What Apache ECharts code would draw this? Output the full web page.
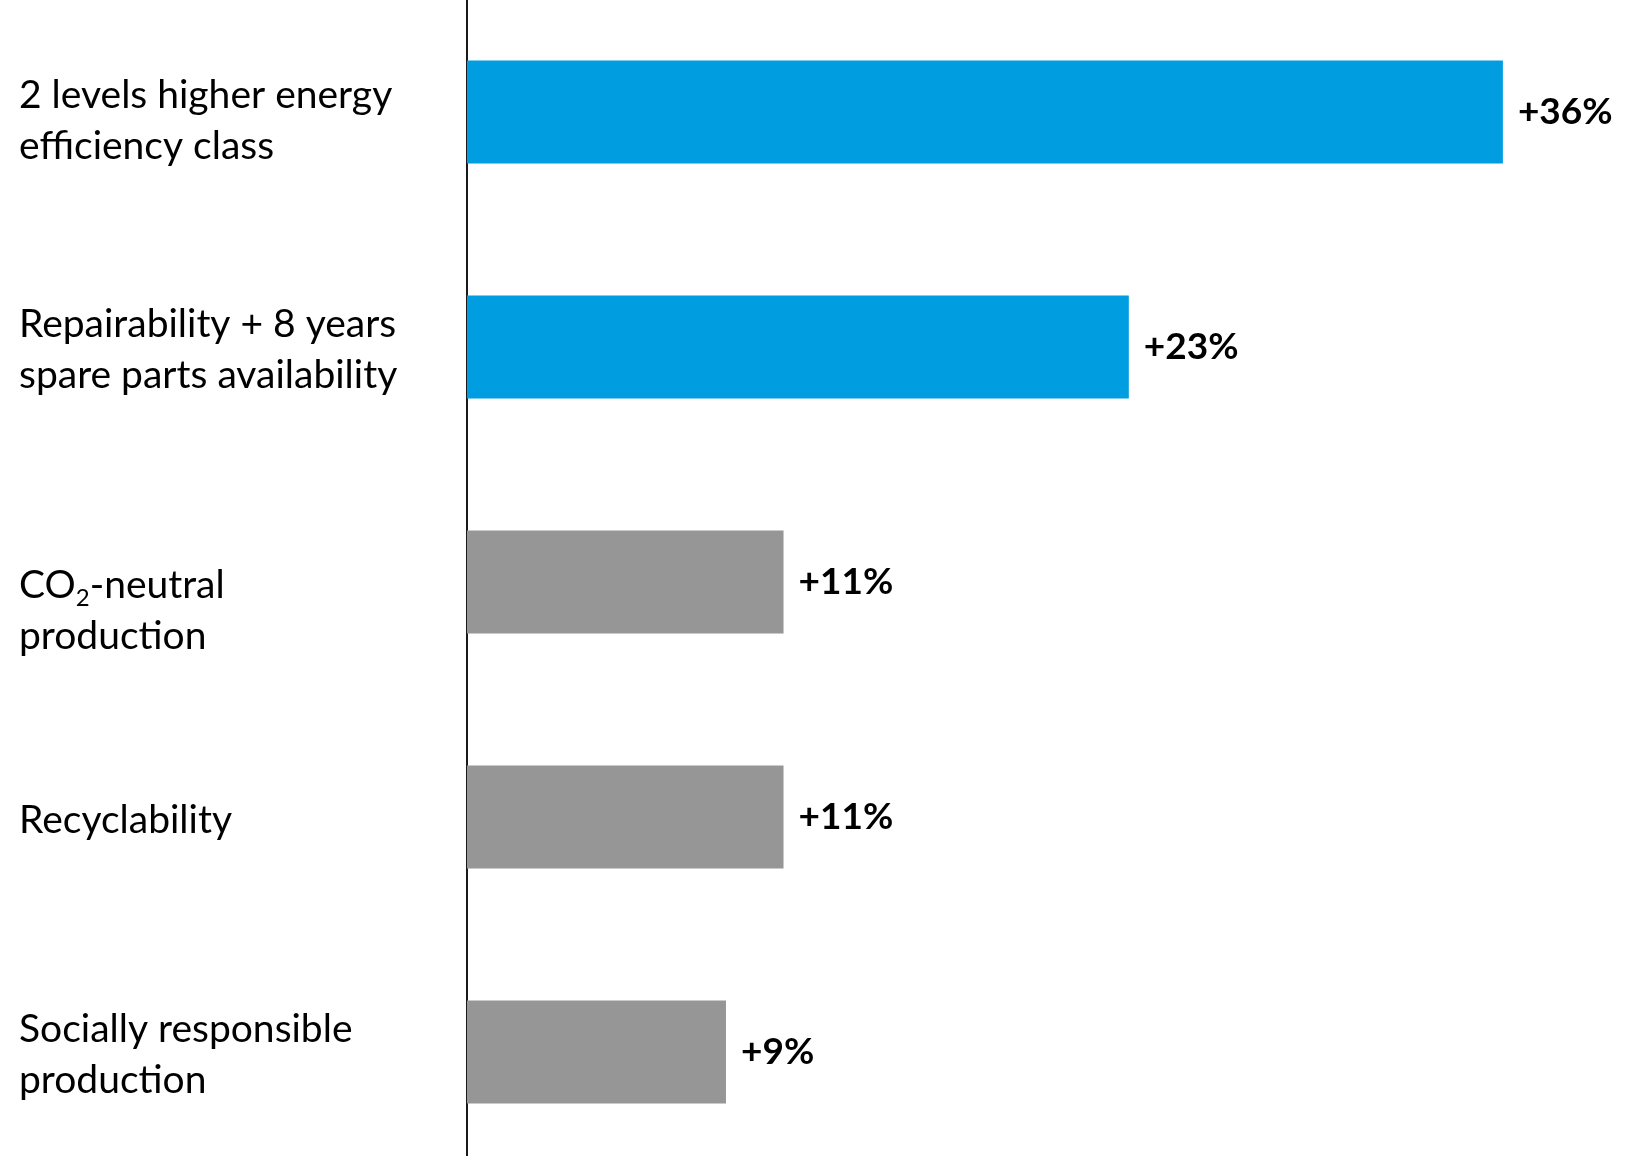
<!DOCTYPE html>
<html>
<head>
<meta charset="utf-8">
<title>Willingness to pay premium</title>
<script src="https://cdn.jsdelivr.net/npm/echarts@6/dist/echarts.min.js"></script>
<style>
  html, body { margin: 0; padding: 0; background: #ffffff; }
  #chart { width: 1643px; height: 1156px; }
</style>
</head>
<body>
<div id="chart"></div>
<script>
// Product attributes, top to bottom
const categories = [
  '2 levels higher energy\nefficiency class',
  'Repairability + 8 years\nspare parts availability',
  'CO2-neutral\nproduction',
  'Recyclability',
  'Socially responsible\nproduction'
];
// Price premium (%) per attribute
const premiums = [36, 23, 11, 11, 9];
// Highlight group per attribute: 'top' attributes in blue, the rest in grey
const groups = ['top', 'top', 'other', 'other', 'other'];

const groupColors = { top: '#009EE0', other: '#969696' };
const baseFont = 'Lato, "Open Sans", "Noto Sans", sans-serif';

// Top padding for category labels (px); some labels sit lower than the rest
const baseLabelPadding = 6;
const labelTopPadding = { 0: 18, 2: 57 };

// Turn "CO2" into rich text with a subscript 2
function categoryLabel(value) {
  return value.split('\n').map(function (line) {
    return line.replace(/CO2/g, 'CO{sub|2}');
  }).join('\n');
}

const axisData = categories.map(function (c, i) {
  const pad = labelTopPadding[i];
  return pad
    ? { value: c, textStyle: { align: 'left', padding: [pad, 0, 0, 0] } }
    : c;
});

const chart = echarts.init(document.getElementById('chart'), null, { renderer: 'canvas' });

chart.setOption({
  backgroundColor: '#ffffff',
  animation: false,
  grid: {
    left: 467,
    top: -5.5,
    width: 1151,
    height: 1175,
    outerBoundsMode: 'none',
    containLabel: false
  },
  xAxis: {
    type: 'value',
    min: 0,
    max: 40,
    show: false
  },
  yAxis: {
    type: 'category',
    data: axisData,
    inverse: true,
    axisLine: { show: true, lineStyle: { color: '#1a1a1a', width: 2 } },
    axisTick: { show: false },
    splitLine: { show: false },
    axisLabel: {
      align: 'left',
      margin: 448,
      padding: [baseLabelPadding, 0, 0, 0],
      color: '#000000',
      fontFamily: baseFont,
      fontSize: 39,
      lineHeight: 51,
      formatter: categoryLabel,
      rich: {
        sub: {
          fontFamily: baseFont,
          fontSize: 24,
          lineHeight: 22,
          verticalAlign: 'bottom',
          color: '#000000'
        }
      }
    }
  },
  series: [{
    type: 'bar',
    data: premiums.map(function (v, i) {
      return { value: v, itemStyle: { color: groupColors[groups[i]] } };
    }),
    barWidth: 103,
    label: {
      show: true,
      position: 'right',
      distance: 15,
      formatter: '+{c}%',
      color: '#000000',
      fontFamily: baseFont,
      fontWeight: 'bold',
      fontSize: 37
    }
  }]
});
</script>
</body>
</html>
